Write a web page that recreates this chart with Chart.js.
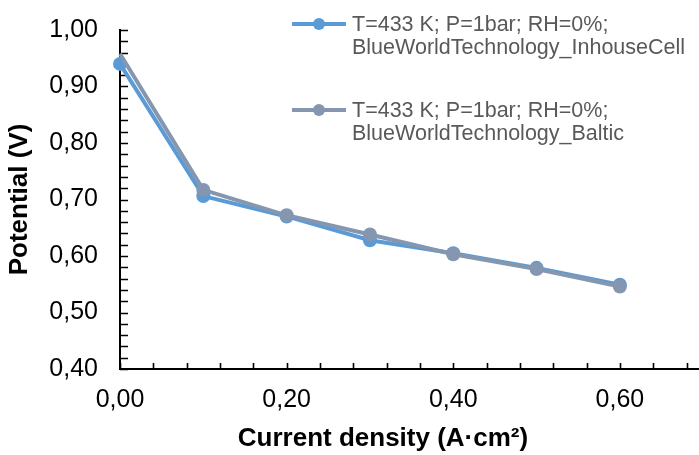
<!DOCTYPE html>
<html>
<head>
<meta charset="utf-8">
<script src="https://cdn.jsdelivr.net/npm/chart.js@4.4.1/dist/chart.umd.min.js"></script>
<style>
  html, body { margin: 0; padding: 0; background: #fff; }
  #wrap { width: 699px; height: 455px; }
</style>
</head>
<body>
<div id="wrap"><canvas id="c" width="699" height="455"></canvas></div>
<script>
// ---- data ----
const currentDensity = [0.0, 0.1, 0.2, 0.3, 0.4, 0.5, 0.6];
const inhouseCell = [0.940, 0.706, 0.670, 0.628, 0.605, 0.579, 0.549];
const baltic = [0.958, 0.717, 0.672, 0.638, 0.603, 0.577, 0.546];
const seriesLines = [
  ['T=433 K; P=1bar; RH=0%;', 'BlueWorldTechnology_InhouseCell'],
  ['T=433 K; P=1bar; RH=0%;', 'BlueWorldTechnology_Baltic']
];
const xMajorTicks = [0.0, 0.2, 0.4, 0.6];
const xTickLabels = ['0,00', '0,20', '0,40', '0,60'];
const yMajorTicks = [0.4, 0.5, 0.6, 0.7, 0.8, 0.9, 1.0];
const yTickLabels = ['0,40', '0,50', '0,60', '0,70', '0,80', '0,90', '1,00'];
const xTitle = 'Current density (A\u00B7cm\u00B2)';
const yTitle = 'Potential (V)';

const FONT = "'Liberation Sans', Arial, Helvetica, sans-serif";
const BLUE = '#5B9BD5';
const GREY = '#8496B0';

function labelFor(v, majors, labels) {
  for (let i = 0; i < majors.length; i++) {
    if (Math.abs(v - majors[i]) < 1e-6) return labels[i];
  }
  return '';
}

function toPoints(xs, ys) { return xs.map((x, i) => ({ x: x, y: ys[i] })); }

function zeroPad(s) { s.paddingLeft = 0; s.paddingRight = 0; s.paddingTop = 0; s.paddingBottom = 0; }

// inward tick marks drawn from the library's own scale ticks
const innerTicks = {
  id: 'innerTicks',
  beforeDatasetsDraw(chart) {
    const ctx = chart.ctx;
    const xs = chart.scales.x, ys = chart.scales.y;
    const a = chart.chartArea;
    ctx.save();
    ctx.strokeStyle = '#000';
    ctx.lineWidth = 1.6;
    ctx.beginPath();
    ys.ticks.forEach(t => {
      const py = Math.round(ys.getPixelForValue(t.value)) + 0.5;
      ctx.moveTo(a.left, py); ctx.lineTo(a.left + 8, py);
    });
    xs.ticks.forEach(t => {
      const px = Math.round(xs.getPixelForValue(t.value)) + 0.5;
      ctx.moveTo(px, a.bottom); ctx.lineTo(px, a.bottom - 6);
    });
    ctx.stroke();
    ctx.restore();
  }
};

// axis titles + legend placed like the original
const decor = {
  id: 'decor',
  afterDraw(chart) {
    const ctx = chart.ctx;
    const a = chart.chartArea;
    ctx.save();
    ctx.fillStyle = '#000';
    ctx.font = 'bold 26px ' + FONT;
    ctx.textAlign = 'center';
    ctx.textBaseline = 'middle';
    ctx.fillText(xTitle, 383, 439);
    ctx.save();
    ctx.translate(20, (a.top + a.bottom) / 2);
    ctx.rotate(-Math.PI / 2);
    ctx.fillText(yTitle, 0, 0);
    ctx.restore();
    const rows = [24, 110];
    chart.data.datasets.forEach((ds, i) => {
      const y = rows[i];
      ctx.strokeStyle = ds.borderColor;
      ctx.lineWidth = 4;
      ctx.beginPath();
      ctx.moveTo(292, y); ctx.lineTo(346, y);
      ctx.stroke();
      ctx.fillStyle = ds.pointBackgroundColor;
      ctx.beginPath();
      ctx.arc(319, y, 6, 0, Math.PI * 2);
      ctx.fill();
      ctx.fillStyle = '#595959';
      ctx.font = '21.5px ' + FONT;
      ctx.textAlign = 'left';
      ctx.textBaseline = 'middle';
      seriesLines[i].forEach((ln, j) => ctx.fillText(ln, 352, y + 1 + j * 23));
    });
    ctx.restore();
  }
};

new Chart(document.getElementById('c'), {
  type: 'line',
  data: {
    datasets: [
      {
        label: seriesLines[0].join(' '),
        data: toPoints(currentDensity, inhouseCell),
        borderColor: BLUE,
        backgroundColor: BLUE,
        pointBackgroundColor: BLUE,
        pointBorderColor: BLUE,
        borderWidth: 4,
        pointRadius: 7,
        pointBorderWidth: 0,
        tension: 0,
        clip: false,
        order: 2
      },
      {
        label: seriesLines[1].join(' '),
        data: toPoints(currentDensity, baltic),
        borderColor: GREY,
        backgroundColor: GREY,
        pointBackgroundColor: GREY,
        pointBorderColor: GREY,
        borderWidth: 4,
        pointRadius: [0, 7, 7, 7, 7, 7, 7],
        pointBorderWidth: 0,
        tension: 0,
        clip: false,
        order: 1
      }
    ]
  },
  options: {
    responsive: false,
    animation: false,
    devicePixelRatio: 1,
    layout: { autoPadding: false, padding: { top: 30, right: 0, left: 0, bottom: 0 } },
    plugins: { legend: { display: false }, tooltip: { enabled: false }, title: { display: false } },
    scales: {
      x: {
        type: 'linear',
        min: 0,
        max: 0.695,
        afterFit(s) { s.height = 86; zeroPad(s); },
        grid: { display: true, drawOnChartArea: false, drawTicks: false },
        border: { display: true, color: '#000', width: 2 },
        ticks: {
          stepSize: 0.04,
          includeBounds: false,
          autoSkip: false,
          maxRotation: 0,
          padding: 16,
          color: '#000',
          font: { family: FONT, size: 25 },
          callback: v => labelFor(v, xMajorTicks, xTickLabels)
        }
      },
      y: {
        type: 'linear',
        min: 0.4,
        max: 1.0,
        afterFit(s) { s.width = 120; zeroPad(s); },
        grid: { display: true, drawOnChartArea: false, drawTicks: false },
        border: { display: true, color: '#000', width: 2 },
        ticks: {
          stepSize: 0.02,
          autoSkip: false,
          padding: 22,
          color: '#000',
          font: { family: FONT, size: 25 },
          callback: v => labelFor(v, yMajorTicks, yTickLabels)
        }
      }
    }
  },
  plugins: [innerTicks, decor]
});
</script>
</body>
</html>
